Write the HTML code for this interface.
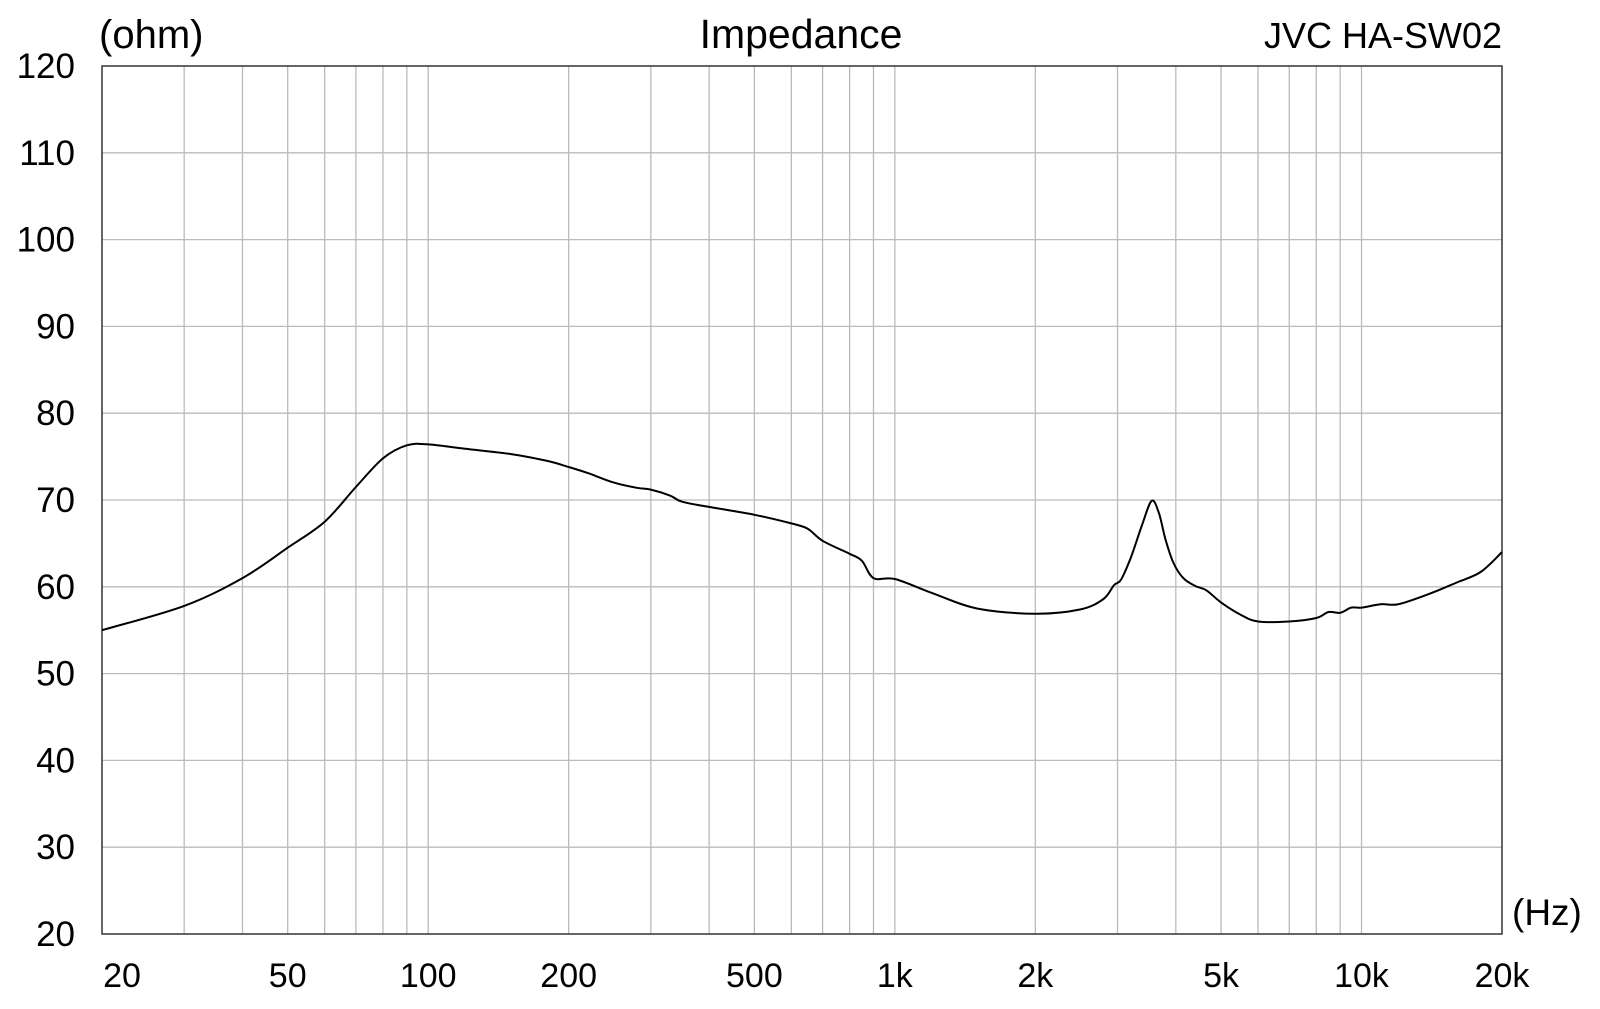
<!DOCTYPE html>
<html><head><meta charset="utf-8"><style>
html,body{margin:0;padding:0;background:#fff;}
svg{display:block;font-family:"Liberation Sans",Arial,sans-serif;}
</style></head><body>
<svg id="s" width="1600" height="1009" xmlns="http://www.w3.org/2000/svg">
<rect width="1600" height="1009" fill="#fff"/>
<g id="grid" stroke="#bbb" stroke-width="1.3"></g>
<rect x="102" y="66" width="1400" height="868" fill="none" stroke="#333" stroke-width="1.5"/>
<path id="curve" fill="none" stroke="#000" stroke-width="2"/>
<g fill="#000">
<text x="99" y="48" font-size="40">(ohm)</text>
<text x="801" y="48" font-size="41" text-anchor="middle">Impedance</text>
<text x="1502" y="48" font-size="36" text-anchor="end">JVC HA-SW02</text>
<text x="1512" y="925" font-size="37">(Hz)</text>
</g>
<g id="ylab" font-size="35" text-anchor="end"></g>
<g id="xlab" font-size="34" text-anchor="middle"></g>
</svg>
<script>
var L=102,R=1502,T=66,B=934;
function X(f){return L+(R-L)/3*Math.log10(f/20);}
function Y(o){return B-(o-20)/100*(B-T);}
var ns="http://www.w3.org/2000/svg",g=document.getElementById('grid');
function ln(x1,y1,x2,y2){var e=document.createElementNS(ns,'line');e.setAttribute('x1',x1);e.setAttribute('y1',y1);e.setAttribute('x2',x2);e.setAttribute('y2',y2);g.appendChild(e);}
[10,100,1000,10000].forEach(function(d){for(var m=1;m<10;m++){var f=d*m;if(f>20&&f<20000)ln(X(f),T,X(f),B);}});
for(var o=30;o<120;o+=10)ln(L,Y(o),R,Y(o));
var yl=document.getElementById('ylab');
for(var o=20;o<=120;o+=10){var t=document.createElementNS(ns,'text');t.setAttribute('x',75);t.setAttribute('y',Y(o)+12);t.textContent=o;yl.appendChild(t);}
var xl=document.getElementById('xlab');
[[20,'20',122],[50,'50'],[100,'100'],[200,'200'],[500,'500'],[1000,'1k'],[2000,'2k'],[5000,'5k'],[10000,'10k'],[20000,'20k']].forEach(function(a){var t=document.createElementNS(ns,'text');t.setAttribute('x',a[2]||X(a[0]));t.setAttribute('y',987);t.textContent=a[1];xl.appendChild(t);});
var d=[[20,55],[30,57.8],[40,61],[50,64.5],[60,67.5],[70,71.5],[80,74.8],[90,76.3],[100,76.4],[120,75.9],[150,75.3],[180,74.5],[200,73.8],[220,73.1],[250,72],[280,71.4],[300,71.2],[330,70.5],[350,69.8],[400,69.2],[500,68.3],[600,67.3],[650,66.7],[700,65.3],[800,63.8],[850,63],[900,61],[1000,60.9],[1200,59.3],[1500,57.5],[2000,56.9],[2500,57.4],[2800,58.6],[2950,60.2],[3050,60.8],[3200,63.3],[3380,67],[3550,69.9],[3680,68.5],[3800,65.5],[3950,62.8],[4150,61],[4400,60.1],[4650,59.6],[5000,58.2],[5500,56.8],[6000,56],[7000,56],[8000,56.4],[8500,57.1],[9000,57],[9500,57.6],[10000,57.6],[11000,58],[12000,58],[14000,59.2],[16000,60.5],[18000,61.7],[20000,64]];
var P=d.map(function(a){return [X(a[0]),Y(a[1])];});
var p='M'+P[0][0].toFixed(1)+' '+P[0][1].toFixed(1);
for(var i=0;i<P.length-1;i++){var p0=P[Math.max(0,i-1)],p1=P[i],p2=P[i+1],p3=P[Math.min(P.length-1,i+2)];
var c1=[p1[0]+(p2[0]-p0[0])/6,p1[1]+(p2[1]-p0[1])/6],c2=[p2[0]-(p3[0]-p1[0])/6,p2[1]-(p3[1]-p1[1])/6];
p+='C'+c1[0].toFixed(1)+' '+c1[1].toFixed(1)+' '+c2[0].toFixed(1)+' '+c2[1].toFixed(1)+' '+p2[0].toFixed(1)+' '+p2[1].toFixed(1);}
document.getElementById('curve').setAttribute('d',p);
</script>
</body></html>
